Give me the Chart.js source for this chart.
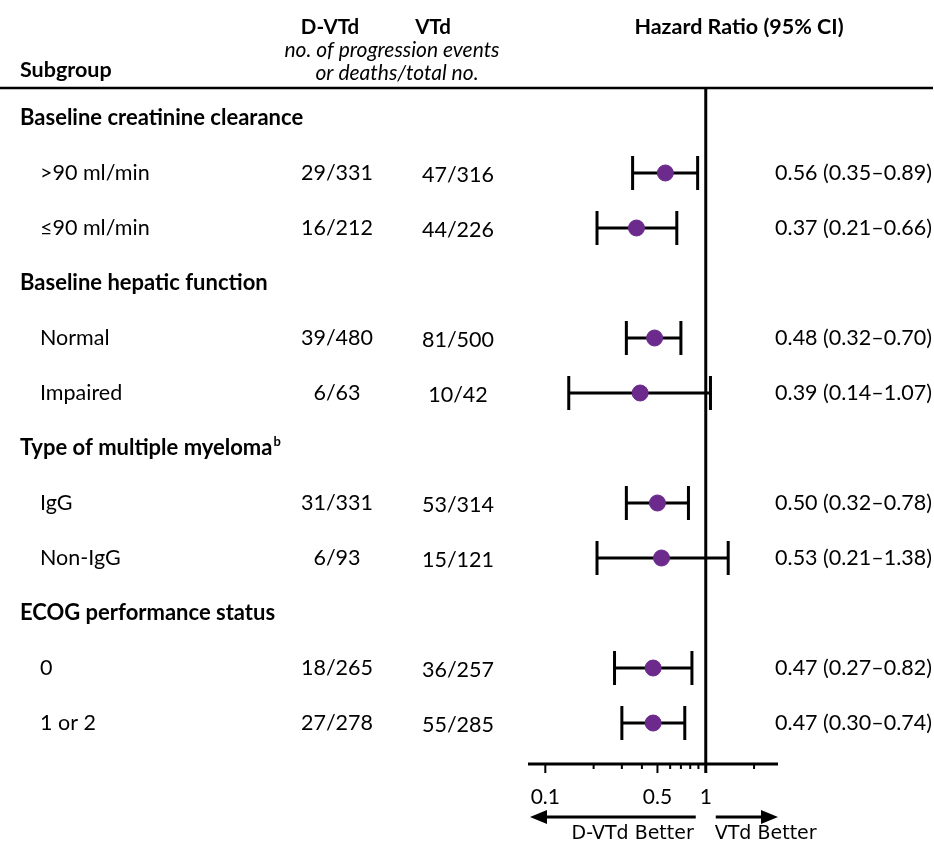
<!DOCTYPE html>
<html>
<head>
<meta charset="utf-8">
<script src="https://cdn.jsdelivr.net/npm/chart.js@4.4.1/dist/chart.umd.min.js"></script>
<style>
  html, body { margin: 0; padding: 0; background: #fff; }
  canvas { display: block; }
</style>
</head>
<body>
<canvas id="chart" width="934" height="844"></canvas>
<script>
// data
const groups = ['Baseline creatinine clearance', 'Baseline hepatic function', 'Type of multiple myeloma', 'ECOG performance status'];
const subgroups = ['>90 ml/min', '≤90 ml/min', 'Normal', 'Impaired', 'IgG', 'Non-IgG', '0', '1 or 2'];
const dvtdEvents = ['29/331', '16/212', '39/480', '6/63', '31/331', '6/93', '18/265', '27/278'];
const vtdEvents = ['47/316', '44/226', '81/500', '10/42', '53/314', '15/121', '36/257', '55/285'];
const hr = [0.56, 0.37, 0.48, 0.39, 0.50, 0.53, 0.47, 0.47];
const ciLow = [0.35, 0.21, 0.32, 0.14, 0.32, 0.21, 0.27, 0.30];
const ciHigh = [0.89, 0.66, 0.70, 1.07, 0.78, 1.38, 0.82, 0.74];
const xTicks = [0.1, 0.2, 0.3, 0.4, 0.5, 0.6, 0.7, 0.8, 0.9, 1, 2];
const xTickLabels = ['0.1', '0.5', '1'];

const FONT = 'Lato, "Open Sans", sans-serif';
const purple = '#6b2a8c';

// row index: group header then its two subgroups
const groupRow = g => g * 3;
const subRow = i => Math.floor(i / 2) * 3 + 1 + (i % 2);
const fmt = v => v.toFixed(2);

const forestPlugin = {
  id: 'forest',
  beforeDatasetsDraw(chart) {
    const { ctx, chartArea, scales: { x, y } } = chart;
    ctx.save();
    ctx.strokeStyle = '#000';
    ctx.lineWidth = 3;
    // CI bars
    hr.forEach((v, i) => {
      const py = y.getPixelForValue(subRow(i));
      const x1 = x.getPixelForValue(ciLow[i]);
      const x2 = x.getPixelForValue(ciHigh[i]);
      ctx.beginPath();
      ctx.moveTo(x1, py); ctx.lineTo(x2, py);
      ctx.moveTo(x1, py - 17); ctx.lineTo(x1, py + 17);
      ctx.moveTo(x2, py - 17); ctx.lineTo(x2, py + 17);
      ctx.stroke();
    });
    // line of no effect
    const x1p = x.getPixelForValue(1);
    ctx.beginPath();
    ctx.moveTo(x1p, chartArea.top);
    ctx.lineTo(x1p, chartArea.bottom + 9);
    ctx.stroke();
    ctx.restore();
  },
  afterDraw(chart) {
    const { ctx, chartArea, scales: { x, y } } = chart;
    ctx.save();
    ctx.fillStyle = '#000';
    ctx.strokeStyle = '#000';
    ctx.textBaseline = 'middle';

    // header
    ctx.font = 'bold 21.5px ' + FONT;
    ctx.textAlign = 'left';
    ctx.fillText('Subgroup', 20, 70);
    ctx.textAlign = 'center';
    ctx.fillText('Hazard Ratio (95% CI)', 739, 27);
    ctx.font = 'bold 20.5px ' + FONT;
    ctx.fillText('D-VTd', 330, 27);
    ctx.fillText('VTd', 433, 27);
    ctx.font = 'italic 21px ' + FONT;
    ctx.fillText('no. of progression events', 392, 50);
    ctx.fillText('or deaths/total no.', 397, 73);

    ctx.lineWidth = 2.5;
    ctx.beginPath();
    ctx.moveTo(0, chartArea.top); ctx.lineTo(933, chartArea.top);
    ctx.stroke();

    // group headers
    ctx.textAlign = 'left';
    groups.forEach((g, i) => {
      const py = y.getPixelForValue(groupRow(i));
      ctx.font = 'bold 22px ' + FONT;
      ctx.fillText(g, 20, py);
      if (i === 2) {
        const w = ctx.measureText(g).width;
        ctx.font = 'bold 13px ' + FONT;
        ctx.fillText('b', 20 + w + 1, py - 6);
      }
    });

    // subgroup rows
    ctx.font = '21.5px ' + FONT;
    subgroups.forEach((s, i) => {
      const py = y.getPixelForValue(subRow(i));
      ctx.textAlign = 'left';
      ctx.fillText(s, 40, py);
      ctx.textAlign = 'center';
      ctx.fillText(dvtdEvents[i], 337, py);
      ctx.fillText(vtdEvents[i], 458, py + 2);
      ctx.textAlign = 'right';
      ctx.fillText(fmt(hr[i]) + ' (' + fmt(ciLow[i]) + '\u2013' + fmt(ciHigh[i]) + ')', 932, py);
    });

    // x axis
    const base = chartArea.bottom;
    ctx.lineWidth = 3;
    ctx.beginPath();
    ctx.moveTo(chartArea.left, base); ctx.lineTo(chartArea.right, base);
    ctx.stroke();
    ctx.lineWidth = 2;
    xTicks.forEach(t => {
      if (t === 1) return;
      const px = x.getPixelForValue(t);
      const major = xTickLabels.includes(String(t));
      ctx.beginPath();
      ctx.moveTo(px, base); ctx.lineTo(px, base + (major ? 9 : 5));
      ctx.stroke();
    });
    ctx.font = '21px ' + FONT;
    ctx.textAlign = 'center';
    xTickLabels.forEach(l => {
      ctx.fillText(l, x.getPixelForValue(Number(l)), base + 33);
    });

    // direction arrows
    const one = x.getPixelForValue(1);
    const ay = base + 53;
    ctx.lineWidth = 3;
    ctx.beginPath();
    ctx.moveTo(chartArea.left + 16, ay); ctx.lineTo(one - 10, ay);
    ctx.moveTo(one + 10, ay); ctx.lineTo(chartArea.right - 16, ay);
    ctx.stroke();
    ctx.beginPath();
    ctx.moveTo(chartArea.left + 2, ay);
    ctx.lineTo(chartArea.left + 19, ay - 7);
    ctx.lineTo(chartArea.left + 19, ay + 7);
    ctx.closePath();
    ctx.moveTo(chartArea.right, ay);
    ctx.lineTo(chartArea.right - 17, ay - 7);
    ctx.lineTo(chartArea.right - 17, ay + 7);
    ctx.closePath();
    ctx.fill();
    ctx.font = '19px "DejaVu Sans", sans-serif';
    ctx.textAlign = 'right';
    ctx.fillText('D-VTd Better', one - 12, base + 70);
    ctx.textAlign = 'left';
    ctx.fillText('VTd Better', one + 9, base + 70);
    ctx.restore();
  }
};

new Chart(document.getElementById('chart'), {
  type: 'scatter',
  data: {
    datasets: [{
      data: hr.map((v, i) => ({ x: v, y: subRow(i) })),
      backgroundColor: purple,
      borderColor: purple,
      pointRadius: 8,
      pointHoverRadius: 8
    }]
  },
  options: {
    responsive: false,
    animation: false,
    devicePixelRatio: 1,
    layout: { padding: { left: 528, right: 156, top: 88, bottom: 80 } },
    plugins: { legend: { display: false }, tooltip: { enabled: false } },
    scales: {
      x: { type: 'logarithmic', min: 0.078, max: 2.82, display: false },
      y: { type: 'linear', reverse: true, min: -0.545, max: 11.745, display: false }
    }
  },
  plugins: [forestPlugin]
});
</script>
</body>
</html>
